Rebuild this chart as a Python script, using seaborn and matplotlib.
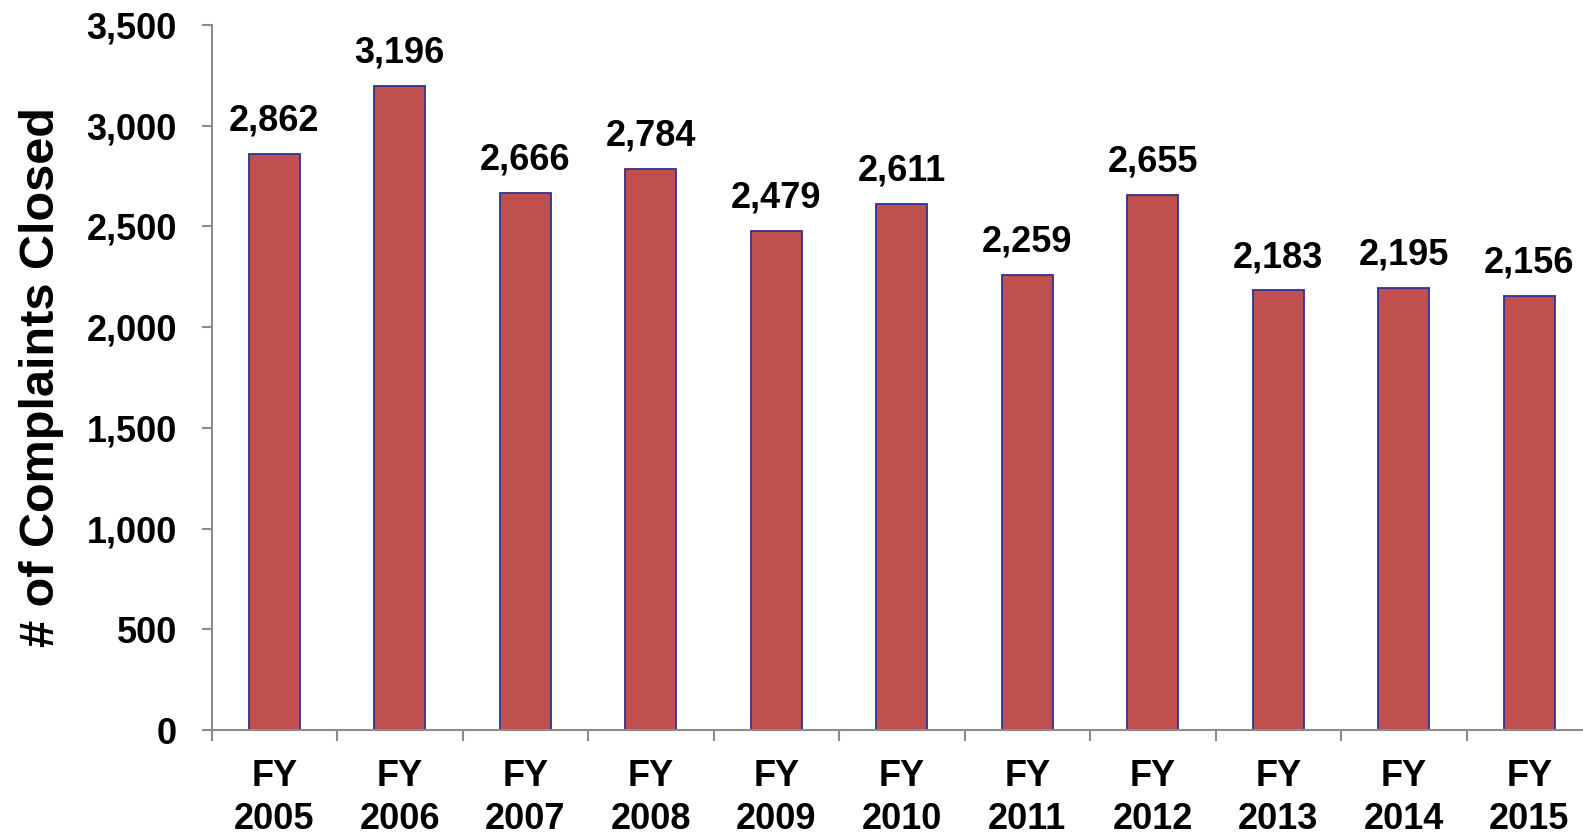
import matplotlib
matplotlib.use("Agg")
import matplotlib.pyplot as plt
import seaborn as sns
import pandas as pd
from matplotlib.ticker import FuncFormatter, FixedLocator

years = ["FY\n2005", "FY\n2006", "FY\n2007", "FY\n2008", "FY\n2009", "FY\n2010",
         "FY\n2011", "FY\n2012", "FY\n2013", "FY\n2014", "FY\n2015"]
closed = [2862, 3196, 2666, 2784, 2479, 2611, 2259, 2655, 2183, 2195, 2156]

df = pd.DataFrame({"year": years, "closed": closed})

sns.set_style("white")
plt.rcParams["font.family"] = ["Liberation Sans", "DejaVu Sans"]
plt.rcParams["font.weight"] = "bold"
plt.rcParams["text.color"] = "black"
plt.rcParams["xtick.color"] = "black"
plt.rcParams["ytick.color"] = "black"
plt.rcParams["axes.labelcolor"] = "black"

fig = plt.figure(figsize=(15.83, 8.35), dpi=100)
ax = fig.add_axes([211.5 / 1583, 1 - 730 / 835, (1592 - 211.5) / 1583, (730 - 25) / 835])

sns.barplot(data=df, x="year", y="closed", color="#C0504D", width=0.41,
            edgecolor="#2E3192", linewidth=1.3, saturation=1, ax=ax)

ax.set_ylim(0, 3500)
ax.set_xlim(-0.5, len(years) - 0.5)
ax.set_yticks(range(0, 3501, 500))
ax.yaxis.set_major_formatter(FuncFormatter(lambda v, p: f"{int(v):,}"))

for i, v in enumerate(closed):
    ax.annotate(f"{v:,}", (i, v), xytext=(0, 11), textcoords="offset points",
                ha="center", va="bottom", fontsize=26, fontweight="bold", color="black")

for s in ["top", "right"]:
    ax.spines[s].set_visible(False)
for s in ["left", "bottom"]:
    ax.spines[s].set_color("#8C8C8C")
    ax.spines[s].set_linewidth(1.5)

ax.tick_params(axis="y", which="major", length=7, width=1.5, color="#8C8C8C",
               labelsize=26, pad=18, left=True, labelcolor="black")
ax.tick_params(axis="x", which="major", length=0, labelsize=26, pad=21, labelcolor="black")
ax.xaxis.set_minor_locator(FixedLocator([i - 0.5 for i in range(len(years) + 1)]))
ax.tick_params(axis="x", which="minor", length=8, width=1.5, color="#8C8C8C", bottom=True)
for lbl in ax.get_xticklabels() + ax.get_yticklabels():
    lbl.set_fontweight("bold")
    lbl.set_color("black")
for lbl in ax.get_xticklabels():
    lbl.set_linespacing(1.3)

ax.set_xlabel("")
ax.set_ylabel("# of Complaints Closed", fontsize=35, fontweight="bold", color="black")
ax.yaxis.set_label_coords(-0.107, 0.5)

fig.savefig("out.png", dpi=100)
